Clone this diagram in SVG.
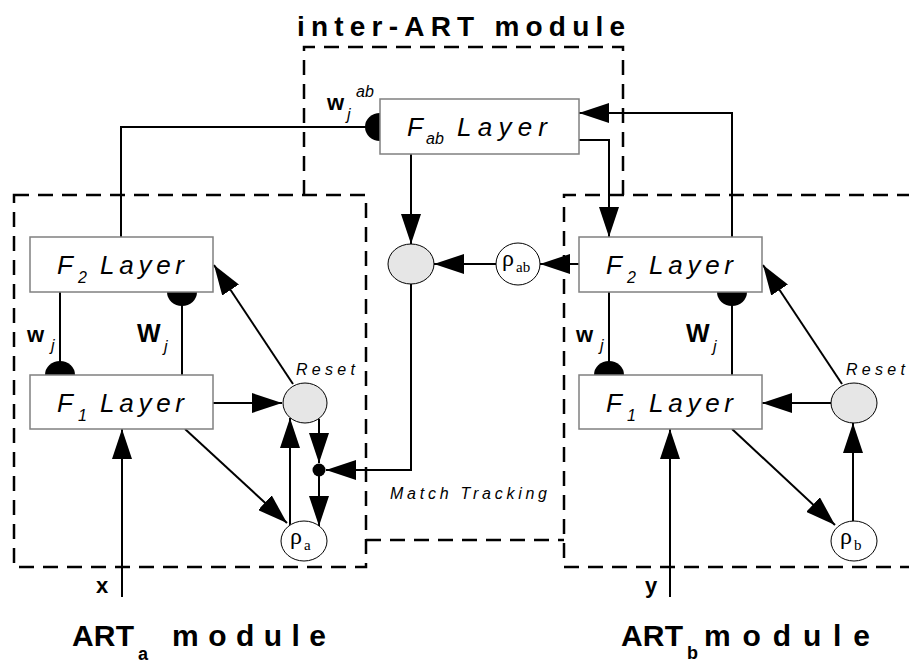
<svg xmlns="http://www.w3.org/2000/svg" width="909" height="663" viewBox="0 0 909 663">
<style>
.dash{fill:none;stroke:#000;stroke-width:2.5;stroke-dasharray:15 9}
.box{fill:#fff;stroke:#808080;stroke-width:1.5}
.ln{fill:none;stroke:#000;stroke-width:2}
.arr{fill:none;stroke:#000;stroke-width:2;marker-end:url(#ah)}
.grey{fill:#e6e6e6;stroke:#000;stroke-width:1}
.rho{fill:#fff;stroke:#000;stroke-width:1}
.lay{font-family:"Liberation Sans",Arial,sans-serif;font-style:italic;font-size:26px;fill:#000}
.sub{font-family:"Liberation Sans",Arial,sans-serif;font-style:italic;font-size:16px;fill:#000}
.bw{font-family:"Liberation Sans",Arial,sans-serif;font-weight:bold;fill:#000}
.it{font-family:"Liberation Sans",Arial,sans-serif;font-style:italic;font-size:16px;fill:#000}
.gr{font-family:"Liberation Serif","Times New Roman",serif;fill:#000}
.title{font-family:"Liberation Sans",Arial,sans-serif;font-weight:bold;font-size:28px;fill:#000}
</style>
<defs>
<marker id="ah" markerUnits="userSpaceOnUse" markerWidth="30" markerHeight="20" refX="30" refY="10" orient="auto">
<path d="M0,0 L30,10 L0,20 Z" fill="#000"/>
</marker>
</defs>

<g id="frames">
<rect class="dash" x="14" y="195" width="352" height="372"/>
<path class="dash" d="M304,195 V47 H623 V195"/>
<path class="dash" d="M366,540 H564"/>
<path class="dash" d="M912,195 H564 V567 H912"/>
</g>

<g id="connectors">
<!-- ARTa -->
<path class="ln" d="M121,237 V127 H366"/>
<path class="ln" d="M60,292 V375"/>
<path class="ln" d="M182,375 V292"/>
<path class="arr" d="M213,403 H282"/>
<path class="arr" d="M293,384 L214,265"/>
<path class="arr" d="M185,429 L287,523"/>
<path class="arr" d="M290,525 V418"/>
<path class="arr" d="M319,419 V463"/>
<path class="arr" d="M319,470 V526"/>
<path class="arr" d="M122,597 V429"/>
<circle cx="319" cy="470" r="6.5" fill="#000"/>
<!-- inter -->
<path class="arr" d="M411,154 V244"/>
<path class="arr" d="M496,264 H434"/>
<path class="arr" d="M579,264 H540"/>
<path class="arr" d="M411,284 V470 H326"/>
<path class="arr" d="M579,140 H609 V237"/>
<path class="arr" d="M732,237 V113 H579"/>
<!-- ARTb -->
<path class="ln" d="M609,292 V375"/>
<path class="ln" d="M732,375 V292"/>
<path class="arr" d="M831,403 H762"/>
<path class="arr" d="M842,384 L763,265"/>
<path class="arr" d="M732,429 L835,525"/>
<path class="arr" d="M853,521 V423"/>
<path class="arr" d="M670,597 V429"/>
<!-- weight terminals -->
<path d="M380,113 A15,14 0 0 0 380,141 Z" fill="#000"/>
<path d="M45,375 A15,14 0 0 1 75,375 Z" fill="#000"/>
<path d="M167,292 A15,14 0 0 0 197,292 Z" fill="#000"/>
<path d="M594,375 A15,14 0 0 1 624,375 Z" fill="#000"/>
<path d="M717,292 A15,14 0 0 0 747,292 Z" fill="#000"/>
</g>

<g id="fab">
<rect class="box" x="380" y="99" width="199" height="55"/>
<text class="lay" x="407" y="136">F</text>
<text class="sub" x="426" y="144">ab</text>
<text class="lay" x="457" y="136" textLength="90" lengthAdjust="spacing">Layer</text>
</g>

<g id="f2a">
<rect class="box" x="30" y="237" width="183" height="55"/>
<text class="lay" x="57" y="274">F</text>
<text class="sub" x="78" y="283">2</text>
<text class="lay" x="100" y="274" textLength="84" lengthAdjust="spacing">Layer</text>
</g>
<g id="f1a">
<rect class="box" x="30" y="375" width="183" height="54"/>
<text class="lay" x="57" y="412">F</text>
<text class="sub" x="78" y="421">1</text>
<text class="lay" x="100" y="412" textLength="84" lengthAdjust="spacing">Layer</text>
</g>
<g id="f2b">
<rect class="box" x="579" y="237" width="183" height="55"/>
<text class="lay" x="606" y="274">F</text>
<text class="sub" x="627" y="283">2</text>
<text class="lay" x="649" y="274" textLength="84" lengthAdjust="spacing">Layer</text>
</g>
<g id="f1b">
<rect class="box" x="579" y="375" width="183" height="54"/>
<text class="lay" x="606" y="412">F</text>
<text class="sub" x="627" y="421">1</text>
<text class="lay" x="649" y="412" textLength="84" lengthAdjust="spacing">Layer</text>
</g>

<g id="match-node">
<ellipse class="grey" cx="411" cy="264" rx="23" ry="20"/>
</g>
<g id="rho-ab">
<ellipse class="rho" cx="518" cy="264" rx="22" ry="21"/>
<text class="gr" x="502" y="266" font-size="24">ρ</text>
<text class="gr" x="516" y="272" font-size="15">ab</text>
</g>
<g id="reset-a">
<ellipse class="grey" cx="305" cy="403" rx="22" ry="20"/>
<text class="it" x="296" y="375" textLength="59" lengthAdjust="spacing">Reset</text>
</g>
<g id="rho-a">
<ellipse class="rho" cx="304" cy="541" rx="23" ry="20"/>
<text class="gr" x="290" y="544" font-size="24">ρ</text>
<text class="gr" x="304" y="550" font-size="15">a</text>
</g>
<g id="reset-b">
<ellipse class="grey" cx="854" cy="403" rx="23" ry="20"/>
<text class="it" x="846" y="375" textLength="59" lengthAdjust="spacing">Reset</text>
</g>
<g id="rho-b">
<ellipse class="rho" cx="854" cy="541" rx="23" ry="20"/>
<text class="gr" x="840" y="544" font-size="24">ρ</text>
<text class="gr" x="854" y="550" font-size="15">b</text>
</g>

<g id="labels">
<text class="title" x="297" y="36" textLength="328" lengthAdjust="spacing">inter-ART module</text>
<text class="bw" x="327" y="110" font-size="22">w</text>
<text class="sub" x="347" y="120" font-size="14">j</text>
<text class="sub" x="356" y="97" font-size="14">ab</text>
<text class="bw" x="27" y="342" font-size="22">w</text>
<text class="sub" x="51" y="351" font-size="14">j</text>
<text class="bw" x="137" y="342" font-size="25">W</text>
<text class="sub" x="164" y="352" font-size="14">j</text>
<text class="bw" x="576" y="342" font-size="22">w</text>
<text class="sub" x="600" y="351" font-size="14">j</text>
<text class="bw" x="686" y="342" font-size="25">W</text>
<text class="sub" x="713" y="352" font-size="14">j</text>
<text class="it" x="390" y="499" textLength="157" lengthAdjust="spacing">Match Tracking</text>
<text class="bw" x="96" y="593" font-size="22">x</text>
<text class="bw" x="645" y="593" font-size="22">y</text>
<text class="bw" x="72" y="646" font-size="30" textLength="62" lengthAdjust="spacing">ART</text>
<text class="bw" x="138" y="660" font-size="18">a</text>
<text class="bw" x="172" y="646" font-size="30" textLength="154" lengthAdjust="spacing">module</text>
<text class="bw" x="621" y="646" font-size="30" textLength="62" lengthAdjust="spacing">ART</text>
<text class="bw" x="687" y="659" font-size="18">b</text>
<text class="bw" x="704" y="646" font-size="30" textLength="166" lengthAdjust="spacing">module</text>
</g>
</svg>
